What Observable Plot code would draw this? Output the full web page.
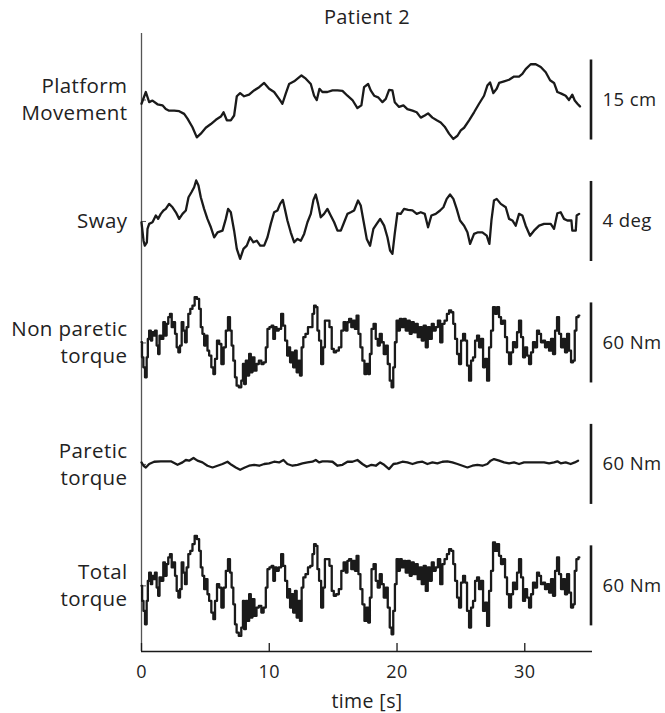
<!DOCTYPE html>
<html><head><meta charset="utf-8">
<script src="https://cdn.jsdelivr.net/npm/d3@7"></script>
<script src="https://cdn.jsdelivr.net/npm/@observablehq/plot@0.6"></script>
<style>body{margin:0;background:#fff} #chart svg{display:block} #chart svg text{letter-spacing:0.4px}</style>
</head><body><div id="chart"></div>
<script>
const title = "Patient 2";
const xLabel = "time [s]";
const xTicks = [0, 10, 20, 30];
const panelLabels = ["Platform\nMovement", "Sway", "Non paretic\ntorque", "Paretic\ntorque", "Total\ntorque"];
const barSizes = [15, 4, 60, 60, 60];
const barUnits = ["cm", "deg", "Nm", "Nm", "Nm"];

// [time s, cm]
const platform = [[0,-0.7],[0.34,1.5],[0.6,-0.4],[0.86,-0.1],[1.25,-0.8],[1.64,-1.0],[1.9,-1.7],[2.16,-2.0],[2.56,-2.0],[2.95,-2.1],[3.34,-2.6],[3.6,-3.5],[3.99,-5.1],[4.33,-7.0],[4.64,-6.3],[5.03,-5.2],[5.43,-4.5],[5.82,-3.7],[6.21,-3.1],[6.42,-2.3],[6.68,-3.8],[6.99,-3.8],[7.25,-2.9],[7.46,0.7],[7.72,1.3],[8.03,0.7],[8.42,1.0],[8.81,1.8],[9.21,2.4],[9.6,3.2],[9.99,2.1],[10.38,1.5],[10.77,0.2],[11.03,-0.7],[11.29,1.2],[11.55,3.0],[11.95,3.5],[12.21,4.0],[12.52,4.6],[12.86,4.0],[13.25,3.0],[13.51,0.8],[13.72,0.0],[13.93,2.1],[14.16,1.5],[14.55,1.5],[14.95,1.8],[15.34,1.8],[15.73,1.7],[16.12,0.8],[16.51,0.0],[16.9,-1.5],[17.21,-1.0],[17.42,2.4],[17.74,3.0],[17.94,1.8],[18.21,0.8],[18.52,0.5],[18.86,-0.4],[19.12,0.2],[19.38,1.9],[19.64,1.8],[19.82,-0.4],[20.16,-1.3],[20.5,-1.0],[20.81,-1.7],[21.21,-2.0],[21.54,-2.3],[21.86,-3.3],[22.17,-2.9],[22.43,-2.5],[22.77,-3.3],[23.11,-3.8],[23.42,-4.2],[23.73,-5.0],[24.07,-6.3],[24.41,-7.3],[24.73,-6.7],[24.99,-5.7],[25.25,-5.2],[25.64,-3.8],[26.03,-2.3],[26.42,-0.7],[26.81,0.8],[27.07,2.7],[27.28,3.3],[27.54,1.3],[27.8,2.1],[27.99,3.2],[28.38,3.5],[28.77,3.8],[29.16,4.4],[29.55,4.4],[29.81,4.9],[30.07,5.8],[30.46,6.7],[30.86,6.7],[31.25,6.2],[31.64,5.2],[31.98,3.7],[32.29,3.2],[32.55,1.5],[32.86,1.2],[33.2,0.8],[33.46,0.0],[33.72,1.0],[33.91,-0.1],[34.12,-0.7],[34.32,-1.2]];

// [time s, deg]
const sway = [[0,-0.04],[0.16,-0.96],[0.26,-1.21],[0.42,-1.04],[0.47,-0.37],[0.6,-0.12],[0.86,-0.04],[1.12,0.3],[1.3,0.13],[1.51,0.38],[1.72,0.55],[1.9,0.63],[2.16,0.88],[2.43,0.71],[2.69,0.46],[2.95,0.13],[3.21,0.38],[3.47,0.55],[3.68,1.21],[3.91,1.46],[4.12,1.71],[4.28,2.05],[4.46,1.8],[4.64,1.21],[4.9,0.63],[5.16,0.13],[5.43,-0.29],[5.69,-0.79],[5.95,-0.54],[6.34,-0.46],[6.6,0.13],[6.78,0.63],[6.99,0.46],[7.25,-0.46],[7.46,-1.37],[7.72,-1.87],[7.98,-1.37],[8.24,-1.21],[8.5,-0.79],[8.76,-1.04],[9.02,-0.96],[9.29,-1.21],[9.6,-1.21],[9.86,-0.79],[10.12,-0.12],[10.38,0.46],[10.64,0.55],[10.85,0.88],[11.06,1.08],[11.22,0.63],[11.42,0.05],[11.68,-0.54],[11.95,-1.04],[12.21,-0.87],[12.47,-0.96],[12.73,-0.62],[12.99,-0.04],[13.25,0.38],[13.46,1.08],[13.64,1.35],[13.82,0.88],[14.03,0.21],[14.29,0.38],[14.55,0.63],[14.81,0.3],[15.08,-0.04],[15.34,-0.46],[15.6,-0.46],[15.86,-0.04],[16.12,0.38],[16.38,0.46],[16.64,0.55],[16.95,1.05],[17.16,0.8],[17.37,0.05],[17.63,-0.87],[17.89,-1.21],[18.15,-0.37],[18.41,-0.12],[18.68,0.13],[18.99,-0.21],[19.25,-0.79],[19.46,-1.46],[19.64,-1.62],[19.82,-0.62],[20.03,0.41],[20.29,0.38],[20.55,0.63],[20.87,0.58],[21.21,0.55],[21.54,0.38],[21.86,0.46],[22.17,0.38],[22.43,-0.29],[22.69,0.3],[23.03,0.38],[23.37,0.55],[23.63,0.71],[23.89,1.13],[24.15,1.35],[24.41,1.13],[24.67,0.63],[24.93,0.05],[25.25,-0.21],[25.51,-0.54],[25.72,-1.12],[26.03,-0.62],[26.34,-0.54],[26.68,-0.54],[27.02,-0.71],[27.23,-1.12],[27.39,0.05],[27.59,1.05],[27.8,1.13],[28.12,0.88],[28.51,0.71],[28.77,0.13],[29.03,0.05],[29.29,-0.21],[29.55,0.38],[29.81,0.3],[30.07,-0.21],[30.41,-0.71],[30.72,-0.46],[31.12,-0.21],[31.51,-0.12],[32.03,-0.12],[32.29,-0.37],[32.55,0.41],[32.81,0.46],[33.07,0.13],[33.33,0.05],[33.65,0.05],[33.72,-0.46],[33.99,-0.46],[34.06,0.3],[34.25,0.38]];

// [time s, Nm]
const nonParetic = [[0,0.5],[0.08,-10.8],[0.21,-18.3],[0.34,-25.8],[0.47,-10.8],[0.52,3.0],[0.68,9.3],[0.78,1.8],[0.89,8.0],[0.99,5.5],[1.12,9.3],[1.25,-2.0],[1.36,-8.3],[1.46,5.5],[1.64,3.0],[1.77,15.5],[1.9,5.5],[2.03,14.3],[2.16,19.3],[2.3,21.8],[2.43,11.8],[2.56,15.5],[2.69,6.8],[2.82,-3.3],[2.95,-7.0],[3.08,-2.0],[3.21,15.5],[3.34,9.3],[3.47,0.5],[3.6,11.8],[3.73,21.8],[3.91,25.5],[4.07,28.0],[4.25,34.3],[4.43,33.0],[4.59,25.5],[4.69,11.8],[4.85,6.8],[4.96,-2.0],[5.11,5.5],[5.22,-5.8],[5.37,-9.5],[5.56,-18.3],[5.69,-23.3],[5.82,-12.0],[6.0,1.8],[6.16,-0.8],[6.34,-15.8],[6.52,-3.3],[6.68,9.3],[6.86,19.3],[6.99,9.3],[7.12,-2.0],[7.25,-13.3],[7.38,-25.8],[7.51,-32.0],[7.72,-33.3],[7.9,-28.3],[7.98,-15.8],[8.09,-30.8],[8.24,-13.3],[8.35,-24.5],[8.5,-8.3],[8.61,-22.0],[8.76,-10.8],[8.92,-20.8],[9.08,-15.8],[9.29,-13.3],[9.47,-15.8],[9.65,-14.5],[9.81,-3.3],[9.91,10.5],[10.12,11.8],[10.25,13.0],[10.38,3.0],[10.51,11.8],[10.64,9.3],[10.85,10.5],[11.01,21.8],[11.16,13.0],[11.32,1.8],[11.48,-9.5],[11.58,-3.3],[11.68,-14.5],[11.79,-7.0],[11.95,-18.3],[12.08,-5.8],[12.21,-22.0],[12.34,-13.3],[12.47,-24.5],[12.6,-3.3],[12.73,4.3],[12.94,6.8],[13.12,11.8],[13.3,11.8],[13.46,21.8],[13.56,28.0],[13.72,26.8],[13.82,9.3],[13.98,1.8],[14.14,-15.8],[14.29,-3.3],[14.42,16.8],[14.61,16.8],[14.81,11.8],[14.97,-4.5],[15.13,-7.0],[15.34,-5.8],[15.55,-3.3],[15.73,9.3],[15.91,15.5],[16.07,9.3],[16.17,15.5],[16.33,18.0],[16.51,11.8],[16.64,16.8],[16.77,10.5],[16.9,20.5],[17.06,6.8],[17.21,-3.3],[17.37,-13.3],[17.53,-23.3],[17.68,-15.8],[17.81,-23.3],[17.94,-8.3],[18.07,10.5],[18.26,14.3],[18.41,3.0],[18.57,-2.0],[18.73,6.8],[18.88,0.5],[19.04,-8.3],[19.2,-2.0],[19.35,-15.8],[19.51,-28.3],[19.64,-33.3],[19.77,-18.3],[19.9,0.5],[20.03,16.8],[20.16,9.3],[20.29,18.0],[20.45,11.8],[20.6,18.0],[20.76,9.3],[20.92,16.8],[21.07,6.8],[21.23,15.5],[21.39,8.0],[21.54,14.3],[21.7,4.3],[21.86,11.8],[22.01,1.8],[22.17,13.0],[22.33,-3.3],[22.48,11.8],[22.64,3.0],[22.8,14.3],[22.95,9.3],[23.11,11.8],[23.29,16.8],[23.47,0.5],[23.63,14.3],[23.81,16.8],[24.0,21.8],[24.15,24.3],[24.33,23.0],[24.47,14.3],[24.62,3.0],[24.78,-8.3],[24.93,-15.8],[25.09,1.8],[25.25,6.8],[25.4,1.8],[25.56,-17.0],[25.72,-28.3],[25.87,-13.3],[26.03,-10.8],[26.19,1.8],[26.34,5.5],[26.5,-3.3],[26.66,3.0],[26.81,-18.3],[26.97,-12.0],[27.13,-28.3],[27.28,-3.3],[27.44,9.3],[27.59,26.8],[27.75,21.8],[27.91,26.8],[28.06,19.3],[28.22,14.3],[28.38,16.8],[28.53,4.3],[28.69,-7.0],[28.85,-15.8],[29.0,-7.0],[29.16,0.5],[29.32,-3.3],[29.47,8.0],[29.63,16.8],[29.79,4.3],[29.94,-10.8],[30.1,-3.3],[30.26,-9.5],[30.41,-15.8],[30.57,-7.0],[30.72,0.5],[30.88,-3.3],[31.04,9.3],[31.19,6.8],[31.35,0.5],[31.51,1.8],[31.66,-3.3],[31.82,0.5],[31.98,-5.8],[32.13,3.0],[32.29,-8.3],[32.45,9.3],[32.6,19.3],[32.76,6.8],[32.92,-3.3],[33.07,3.0],[33.23,-7.0],[33.39,6.8],[33.54,-5.8],[33.7,-14.5],[33.86,-13.3],[33.96,9.3],[34.12,19.3],[34.27,20.5]];

// [time s, Nm]
const paretic = [[0,1.5],[0.16,-1.0],[0.34,-2.3],[0.6,0.3],[0.99,2.0],[1.51,2.3],[2.3,2.3],[2.82,-0.3],[3.21,1.5],[3.47,3.3],[3.73,2.8],[4.07,4.8],[4.38,2.8],[4.77,1.5],[5.16,-1.0],[5.56,-2.3],[5.95,-1.0],[6.34,0.3],[6.73,2.0],[7.04,-0.3],[7.38,-2.3],[7.72,-4.0],[8.09,-2.3],[8.42,-1.0],[8.82,-0.3],[9.21,-1.0],[9.6,0.3],[9.99,0.8],[10.38,2.0],[10.77,1.5],[11.11,3.3],[11.42,0.3],[11.82,-1.0],[12.21,-0.3],[12.6,0.8],[12.99,1.5],[13.38,2.0],[13.64,3.3],[13.9,1.5],[14.16,2.3],[14.55,2.3],[14.95,2.0],[15.34,-1.0],[15.73,-0.3],[16.12,2.0],[16.51,2.0],[16.9,3.3],[17.29,0.3],[17.63,-1.8],[18.0,-0.3],[18.34,-1.0],[18.68,1.5],[18.99,-0.3],[19.38,-3.5],[19.72,0.3],[20.03,0.8],[20.42,2.0],[20.81,1.5],[21.21,0.3],[21.6,1.5],[21.99,2.0],[22.38,0.3],[22.77,1.5],[23.16,0.8],[23.55,2.0],[23.94,2.3],[24.33,1.5],[24.73,0.3],[25.12,-1.0],[25.51,-2.3],[25.9,-1.0],[26.29,-0.3],[26.68,-1.0],[27.07,0.3],[27.33,2.8],[27.59,4.0],[27.99,2.8],[28.38,1.5],[28.77,0.8],[29.16,1.5],[29.55,0.3],[29.94,1.5],[30.33,1.5],[30.72,1.5],[31.12,1.5],[31.51,1.5],[31.9,0.8],[32.29,1.5],[32.55,2.3],[32.81,0.8],[33.2,1.5],[33.59,0.3],[33.91,1.5],[34.17,2.8]];

// [time s, Nm]
const total = [[0,0],[0.1,-11.3],[0.21,-18.8],[0.34,-28.8],[0.47,-11.3],[0.52,3.8],[0.68,10],[0.78,1.3],[0.89,7.5],[0.99,5],[1.12,10],[1.25,-1.3],[1.36,-7.5],[1.46,6.3],[1.64,3.8],[1.77,17.5],[1.9,7.5],[2.03,16.3],[2.16,21.3],[2.3,23.8],[2.43,13.8],[2.56,17.5],[2.69,7.5],[2.82,-3.8],[2.95,-8.8],[3.08,-2.5],[3.21,17.5],[3.34,10],[3.47,1.3],[3.6,13.8],[3.73,23.8],[3.91,26.3],[4.07,31.3],[4.25,37.5],[4.43,35],[4.59,26.3],[4.69,13.8],[4.85,7.5],[4.96,-2.5],[5.11,5],[5.22,-6.3],[5.37,-11.3],[5.56,-20],[5.69,-25],[5.82,-11.3],[6.0,1.3],[6.16,-1.3],[6.34,-16.3],[6.52,-1.3],[6.68,11.3],[6.86,20],[6.99,10],[7.12,-1.3],[7.25,-13.8],[7.38,-28.8],[7.51,-35],[7.72,-37.5],[7.9,-31.3],[7.98,-11.3],[8.09,-32.5],[8.24,-11.3],[8.35,-26.3],[8.5,-6.3],[8.61,-23.8],[8.76,-10],[8.92,-22.5],[9.08,-16.3],[9.29,-15],[9.47,-20],[9.65,-16.3],[9.81,-1.3],[9.91,12.5],[10.12,13.8],[10.25,15],[10.38,3.8],[10.51,13.8],[10.64,11.3],[10.85,13.8],[11.01,23.8],[11.16,15],[11.32,3.8],[11.48,-8.8],[11.58,-2.5],[11.68,-16.3],[11.79,-6.3],[11.95,-20],[12.08,-3.8],[12.21,-23.8],[12.34,-11.3],[12.47,-26.3],[12.6,-1.3],[12.73,6.3],[12.94,8.8],[13.12,13.8],[13.3,15],[13.46,23.8],[13.56,31.3],[13.72,30],[13.82,12.5],[13.98,3.8],[14.14,-16.3],[14.29,-1.3],[14.42,20],[14.61,20],[14.81,15],[14.97,-3.8],[15.13,-7.5],[15.34,-6.3],[15.55,-2.5],[15.73,11.3],[15.91,17.5],[16.07,10],[16.17,18.8],[16.33,20],[16.51,12.5],[16.64,18.8],[16.77,11.3],[16.9,22.5],[17.06,8.8],[17.21,-2.5],[17.37,-13.8],[17.53,-26.3],[17.68,-16.3],[17.81,-27.5],[17.94,-8.8],[18.07,12.5],[18.26,16.3],[18.41,3.8],[18.57,-1.3],[18.73,8.8],[18.88,1.3],[19.04,-8.8],[19.2,-1.3],[19.35,-16.3],[19.51,-31.3],[19.64,-36.3],[19.77,-18.8],[19.9,1.3],[20.03,20],[20.16,11.3],[20.29,20],[20.45,13.8],[20.6,18.8],[20.76,10],[20.92,18.8],[21.07,7.5],[21.23,17.5],[21.39,8.8],[21.54,16.3],[21.7,5],[21.86,13.8],[22.01,1.3],[22.17,15],[22.33,-3.8],[22.48,13.8],[22.64,3.8],[22.8,17.5],[22.95,11.3],[23.11,13.8],[23.29,20],[23.47,1.3],[23.63,16.3],[23.81,20],[24.0,23.8],[24.15,27.5],[24.33,26.3],[24.47,16.3],[24.62,3.8],[24.78,-8.8],[24.93,-16.3],[25.09,2.5],[25.25,7.5],[25.4,2.5],[25.56,-18.8],[25.72,-31.3],[25.87,-16.3],[26.03,-11.3],[26.19,3.8],[26.34,6.3],[26.5,-2.5],[26.66,3.8],[26.81,-18.8],[26.97,-12.5],[27.13,-30],[27.28,-3.8],[27.44,11.3],[27.59,32.5],[27.75,26.3],[27.91,31.3],[28.06,22.5],[28.22,16.3],[28.38,20],[28.53,6.3],[28.69,-6.3],[28.85,-16.3],[29.0,-6.3],[29.16,2.5],[29.32,-2.5],[29.47,10],[29.63,20],[29.79,6.3],[29.94,-11.3],[30.1,-2.5],[30.26,-8.8],[30.41,-16.3],[30.57,-6.3],[30.72,2.5],[30.88,-1.3],[31.04,10],[31.19,7.5],[31.35,1.3],[31.51,2.5],[31.66,-2.5],[31.82,1.3],[31.98,-5],[32.13,5],[32.29,-7.5],[32.45,11.3],[32.6,21.3],[32.76,8.8],[32.92,-2.5],[33.07,5],[33.23,-6.3],[33.39,8.8],[33.54,-5],[33.7,-16.3],[33.86,-13.8],[33.96,11.3],[34.12,20],[34.27,21.3]];

const seriesData = [platform, sway, nonParetic, paretic, total];
const seriesCurves = ["linear", "linear", "step", "linear", "step"];

// layout: each panel's scale bar spans one "bar unit"; panels stacked with spacing S
const S = 1.5175;
const yDomain = [-(4 * S + 0.82), 0.831];
const xDomain = [0, 35.3];
const pos = (i, v) => -i * S + v / barSizes[i];

const panels = panelLabels.map((label, i) => ({
  i, label, unit: `${barSizes[i]} ${barUnits[i]}`,
  center: pos(i, 0), lo: pos(i, -barSizes[i] / 2), hi: pos(i, barSizes[i] / 2)
}));

const ink = "#1a1a1a";
const lineMarks = seriesData.map((data, i) =>
  Plot.line(data, {x: d => d[0], y: d => pos(i, d[1]), curve: seriesCurves[i],
    stroke: ink, strokeWidth: 2.3, strokeLinejoin: "round", strokeLinecap: "round"}));

const chart = Plot.plot({
  width: 665, height: 713,
  marginLeft: 141, marginRight: 73, marginTop: 33, marginBottom: 62,
  x: {domain: xDomain},
  y: {domain: yDomain},
  style: {fontFamily: "'Open Sans', sans-serif", color: "#222", background: "white", overflow: "visible"},
  marks: [
    Plot.ruleX([xDomain[0]], {stroke: "#555", strokeWidth: 1.3}),
    Plot.ruleY([yDomain[0]], {stroke: ink, strokeWidth: 1.6}),
    Plot.axisY({ticks: panels.map(p => p.center), tickSize: -5, tickFormat: () => "", stroke: "#555", label: null}),
    Plot.axisX({ticks: xTicks, tickSize: -8, tickFormat: () => "", stroke: ink, strokeWidth: 1.3, label: null}),
    Plot.axisX({ticks: xTicks, tickSize: 0, tickPadding: 14, fontSize: 18, label: null}),
    ...lineMarks,
    Plot.ruleX(panels, {x: xDomain[1], y1: "lo", y2: "hi", dx: -1.5, stroke: ink, strokeWidth: 2.6}),
    Plot.text(panels, {frameAnchor: "left", y: "center", text: "label", textAnchor: "end", dx: -14, dy: -2, fontSize: 20.5, lineHeight: 1.32, fill: "#222"}),
    Plot.text(panels, {frameAnchor: "right", y: "center", text: "unit", textAnchor: "start", dx: 10, fontSize: 18.5, fill: "#222"}),
    Plot.text([title], {frameAnchor: "top", lineAnchor: "middle", dy: -16, fontSize: 20, fill: "#222"}),
    Plot.text([xLabel], {frameAnchor: "bottom", lineAnchor: "middle", dy: 50, fontSize: 19.5, fill: "#222"})
  ]
});
document.getElementById("chart").append(chart);
</script>
</body></html>
